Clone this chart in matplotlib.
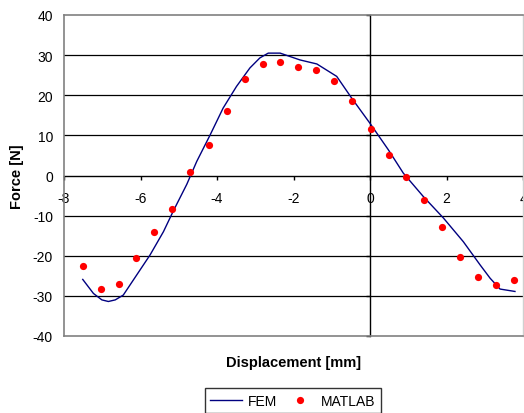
import matplotlib
matplotlib.use("Agg")
import matplotlib.pyplot as plt
from matplotlib.lines import Line2D

plt.rcParams['font.family'] = ['Liberation Sans', 'DejaVu Sans']

# FEM curve
fem_x = [-7.51, -7.23, -7.01, -6.84, -6.66, -6.45, -6.10, -5.75, -5.40, -5.14,
         -4.79, -4.53, -4.18, -3.84, -3.49, -3.14, -2.88, -2.66, -2.35, -1.83,
         -1.39, -0.87, -0.48, 0.00, 0.48, 0.87, 1.39, 1.92, 2.44, 2.88,
         3.14, 3.40, 3.79]
fem_y = [-25.9, -29.4, -31.0, -31.4, -31.0, -29.8, -24.8, -19.8, -14.0, -8.8,
         -2.2, 3.5, 10.1, 16.8, 22.2, 26.8, 29.3, 30.5, 30.5, 28.8,
         27.8, 24.7, 19.3, 13.0, 6.4, 0.6, -5.2, -10.6, -16.5, -22.3,
         -25.6, -28.3, -28.9]

# MATLAB points
mat_x = [-7.51, -7.04, -6.57, -6.12, -5.65, -5.18, -4.71, -4.22, -3.75, -3.28,
         -2.81, -2.35, -1.88, -1.41, -0.93, -0.46, 0.02, 0.49, 0.93, 1.40,
         1.87, 2.35, 2.82, 3.30, 3.77]
mat_y = [-22.5, -28.4, -27.0, -20.5, -14.2, -8.4, 0.75, 7.5, 16.0, 24.1,
         27.8, 28.4, 27.0, 26.4, 23.6, 18.5, 11.5, 5.2, -0.4, -6.2,
         -12.8, -20.2, -25.3, -27.3, -26.1]

x_ticks = [-8, -6, -4, -2, 0, 2, 4]
y_ticks = [-40, -30, -20, -10, 0, 10, 20, 30, 40]

fig = plt.figure(figsize=(5.24, 4.14), dpi=100)
W, H = 524, 414
ax = fig.add_axes([64 / W, 1 - 337 / H, (523 - 64) / W, (337 - 16) / H])
ax.set_xlim(-8, 4)
ax.set_ylim(-40, 40)

# gridlines
for yv in y_ticks:
    if yv not in (-40, 0, 40):
        ax.axhline(yv, color='black', lw=0.9, zorder=1)

ax.plot(fem_x, fem_y, color='#000080', lw=1.0, zorder=3)
ax.plot(mat_x, mat_y, linestyle='none', marker='o', color='#ff0000',
        markersize=5.2, markeredgewidth=0, zorder=4)

for side in ['left', 'top', 'bottom']:
    ax.spines[side].set_color('#808080')
    ax.spines[side].set_linewidth(1.2)
ax.spines['right'].set_color('#d0d0d0')
ax.spines['right'].set_linewidth(1.0)

ax.set_yticks(y_ticks)
ax.set_yticklabels([str(v) for v in y_ticks])
ax.tick_params(axis='y', length=0, pad=8, labelsize=10)
ax.set_xticks([])

# x axis through y=0
secx = ax.secondary_xaxis(0.5)
secx.set_alignment('bottom')
secx.spines['bottom'].set_color('black')
secx.spines['bottom'].set_linewidth(1.0)
secx.set_xticks(x_ticks)
secx.set_xticklabels([str(v) for v in x_ticks])
secx.tick_params(axis='x', direction='out', length=3.0, width=1.0, pad=8.5,
                 labelsize=10, colors='black')

# y axis through x=0
secy = ax.secondary_yaxis(8 / 12)
secy.set_alignment('left')
secy.spines['left'].set_color('black')
secy.spines['left'].set_linewidth(1.0)
secy.set_yticks(y_ticks)
secy.set_yticklabels([])
secy.tick_params(axis='y', direction='out', length=3.0, width=1.0)

fig.text(293.5 / W, 1 - 363 / H, 'Displacement [mm]', ha='center', va='center',
         fontsize=10.5, fontweight='bold')
fig.text(17 / W, 1 - 177 / H, 'Force [N]', ha='center', va='center',
         rotation=90, fontsize=10.5, fontweight='bold')

handles = [Line2D([], [], color='#000080', lw=1.0),
           Line2D([], [], linestyle='none', marker='o', color='#ff0000',
                  markersize=5.2, markeredgewidth=0)]
leg = fig.legend(handles, ['FEM', 'MATLAB'], ncol=2, loc='upper center',
                 bbox_to_anchor=(293 / W, 1 - 389 / H), fontsize=10,
                 frameon=True, fancybox=False, edgecolor='black',
                 handlelength=2.3, handletextpad=0.4, columnspacing=0.5,
                 borderpad=0.4, borderaxespad=0)
leg.get_frame().set_linewidth(1.0)

fig.savefig('out.png', dpi=100)
